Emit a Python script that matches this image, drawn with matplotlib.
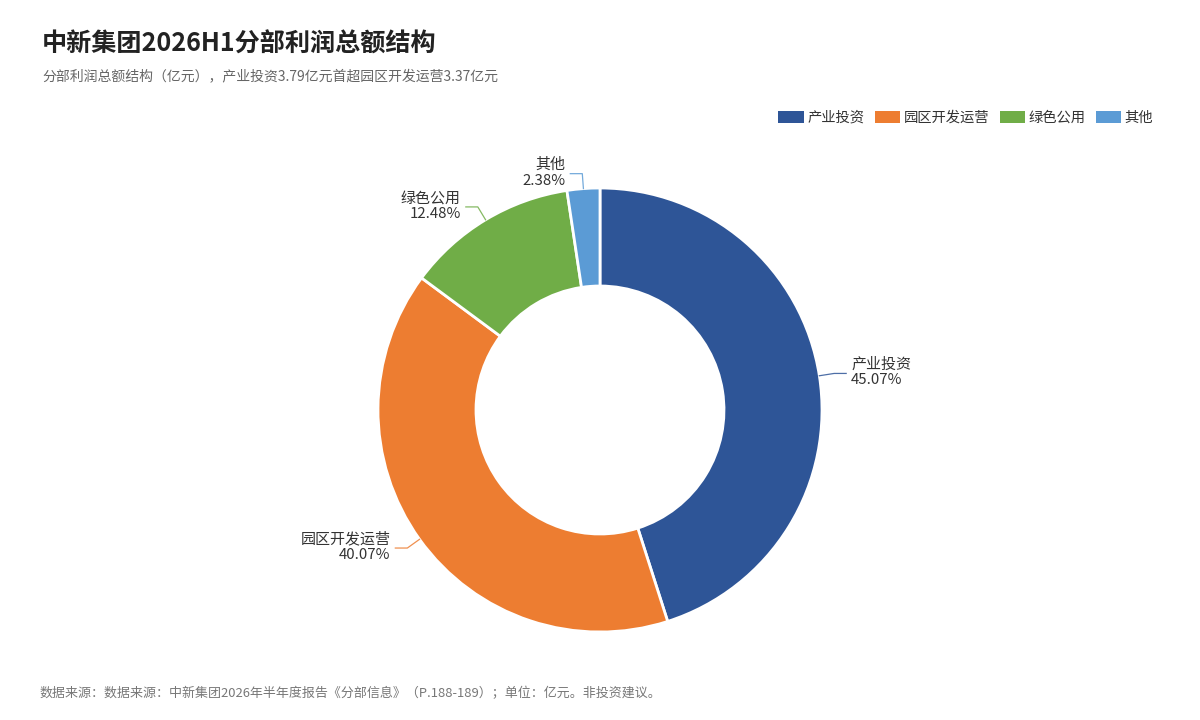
import numpy as np
import matplotlib
matplotlib.use("Agg")
from matplotlib import pyplot as plt
from matplotlib.patches import Patch

plt.rcParams['font.family'] = ['Noto Sans CJK SC', 'DejaVu Sans']

# data
segments = ['产业投资', '园区开发运营', '绿色公用', '其他']
shares = [45.07, 40.07, 12.48, 2.38]
colors = ['#2E5597', '#ED7D31', '#70AD47', '#5B9BD5']

title = '中新集团2026H1分部利润总额结构'
subtitle = '分部利润总额结构（亿元），产业投资3.79亿元首超园区开发运营3.37亿元'
footer = '数据来源：数据来源：中新集团2026年半年度报告《分部信息》（P.188-189）；单位：亿元。非投资建议。'

W, H = 1200, 720
fig = plt.figure(figsize=(12, 7.2), dpi=100)
ax = fig.add_axes([0, 0, 1, 1])

cx, cy = 600, H - 410
r_out, r_in = 222, 124

wedges, _ = ax.pie(shares, colors=colors, startangle=90, counterclock=False,
                   center=(cx, cy), radius=r_out,
                   wedgeprops=dict(width=r_out - r_in, edgecolor='white', linewidth=2))
ax.set_xlim(0, W)
ax.set_ylim(0, H)
ax.axis('off')

# labels with leader lines
for w, name, val, col in zip(wedges, segments, shares, colors):
    ang = np.deg2rad((w.theta1 + w.theta2) / 2)
    c, s = np.cos(ang), np.sin(ang)
    x0, y0 = cx + r_out * c, cy + r_out * s
    x1, y1 = cx + (r_out + 15) * c, cy + (r_out + 15) * s
    side = 1 if c >= 0 else -1
    x2 = x1 + side * 12
    ax.plot([x0, x1, x2], [y0, y1, y1], color=col, lw=0.9, alpha=0.85)
    ha = 'left' if side > 0 else 'right'
    ax.text(x2 + side * 5, y1 + 1, f'{name}\n{val:.2f}%', ha=ha, va='center',
            fontsize=10.8, color='#333333', linespacing=1.15,
            multialignment='right' if side < 0 else 'left')

fig.text(42 / W, 1 - 44 / H, title, fontsize=18.1, fontweight='bold',
         color='#222222', va='center', ha='left')
fig.text(42 / W, 1 - 76 / H, subtitle, fontsize=10, color='#666666',
         va='center', ha='left')
fig.text(40 / W, 1 - 694 / H, footer, fontsize=9.35, color='#777777',
         va='center', ha='left')

handles = [Patch(facecolor=c, edgecolor='none') for c in colors]
fig.legend(handles, segments, loc='upper right', ncol=4, frameon=False,
           bbox_to_anchor=(1166 / W, 1 - 98 / H), fontsize=10.3,
           handlelength=1.75, handleheight=0.95, handletextpad=0.25,
           columnspacing=0.75, labelcolor='#333333')

fig.savefig('out.png', dpi=100, facecolor='white')
